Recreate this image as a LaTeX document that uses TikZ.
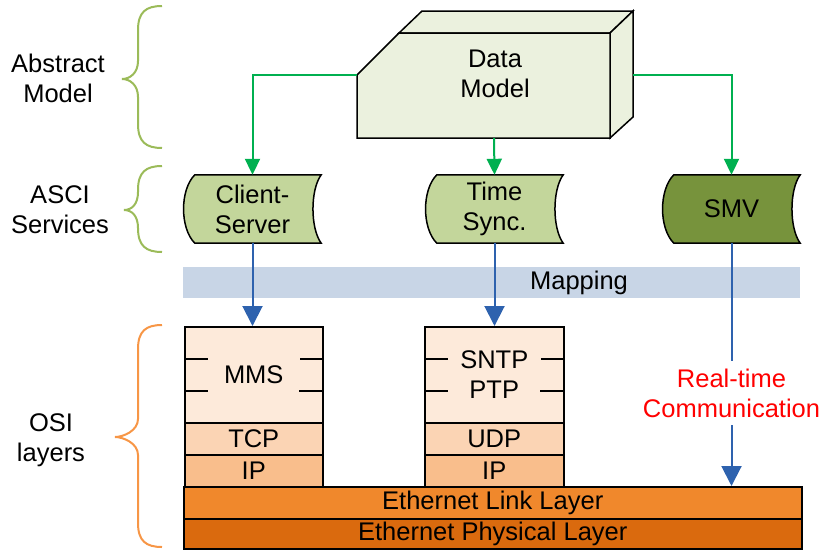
\documentclass[tikz,border=0pt]{standalone}
\usepackage{fontspec}
\setmainfont{Liberation Sans}
\usetikzlibrary{arrows.meta}
\definecolor{dmfill}{HTML}{EBF1DE}
\definecolor{ascilight}{HTML}{C3D69B}
\definecolor{ascidark}{HTML}{77933C}
\definecolor{mapfill}{HTML}{C8D5E6}
\definecolor{appfill}{HTML}{FDEADA}
\definecolor{tcpfill}{HTML}{FBD4B4}
\definecolor{ipfill}{HTML}{F9BE8C}
\definecolor{linkfill}{HTML}{F0882C}
\definecolor{physfill}{HTML}{DA6A0E}
\definecolor{gline}{HTML}{00B050}
\definecolor{bline}{HTML}{2E62AE}
\definecolor{bracegreen}{HTML}{9BBB59}
\definecolor{braceorange}{HTML}{F79646}
\tikzset{
  txt/.style={font=\fontsize{25.5}{30}\selectfont, align=center, inner sep=0pt},
  outline/.style={draw=black, line width=1.5pt},
  layerbox/.style={outline, txt, anchor=north west},
  garrow/.style={draw=gline, line width=2pt, -{Triangle[length=16pt,width=15pt]}},
  barrow/.style={draw=bline, line width=2pt, -{Triangle[length=20pt,width=20pt]}},
  bplain/.style={draw=bline, line width=2pt},
  ascibox/.style={txt, minimum width=137pt, minimum height=68pt},
  tick/.style={draw=black, line width=1.5pt},
}
\newcommand\asciShape[2]{%
  \draw[outline, fill=#2] ([xshift=11pt]#1.north west) -- (#1.north east)
    .. controls ([xshift=-11pt,yshift=-15pt]#1.north east) and ([xshift=-11pt,yshift=15pt]#1.south east) .. (#1.south east)
    -- ([xshift=11pt]#1.south west)
    .. controls ([xshift=-4pt,yshift=15pt]#1.south west) and ([xshift=-4pt,yshift=-15pt]#1.north west) .. cycle;}
% brace: #1 top y, #2 bottom y, #3 tip y, #4 tip x, #5 colour
\newcommand\myBrace[5]{%
  \draw[#5, line width=2pt] (162,#1) .. controls (146,#1) and (138,{#1+6}) .. (138,{#1+24})
    -- (138,{#3-18}) .. controls (138,{#3-6}) and ({#4+8},#3) .. (#4,#3)
    .. controls ({#4+8},#3) and (138,{#3+6}) .. (138,{#3+18})
    -- (138,{#2-24}) .. controls (138,{#2-6}) and (146,#2) .. (162,#2);}
\begin{document}
\begin{tikzpicture}[x=1pt, y=-1pt]
\useasboundingbox (0,0) rectangle (821,549);

% ---------- Data model (3D block) ----------
\draw[outline, fill=dmfill, line join=miter] (399,33) -- (422,11) -- (633,11) -- (610,33) -- cycle;
\draw[outline, fill=dmfill, line join=miter] (610,33) -- (633,11) -- (633,117) -- (610,138) -- cycle;
\draw[outline, fill=dmfill, line join=miter] (357,138) -- (357,75) -- (399,33) -- (610,33) -- (610,138) -- cycle;
\node[txt] (dmtext) at (495,74) {Data\\Model};
\coordinate (dmL) at (357,75);
\coordinate (dmR) at (633,75);
\coordinate (dmB) at (494,138);

% ---------- ASCI services ----------
\node[ascibox] (cs) at (252.5,209) {};
\node[ascibox] (ts) at (494.5,209) {};
\node[ascibox] (smv) at (731.5,209) {};
\asciShape{cs}{ascilight}
\asciShape{ts}{ascilight}
\asciShape{smv}{ascidark}
\node[txt] (cstext) at (cs.center) {Client-\\Server};
\node[txt] (tstext) at (ts.center) {Time\\Sync.};
\node[txt] (smvtext) at (smv.center) {SMV};

% ---------- Mapping ----------
\node[fill=mapfill, minimum width=617pt, minimum height=31pt, inner sep=0pt, anchor=north west] (map) at (183,267) {};
\node[txt] (maptext) at (579,283) {Mapping};

% ---------- OSI stacks ----------
\node[layerbox, fill=appfill, minimum width=138pt, minimum height=96pt] (mms) at (184,326) {MMS};
\node[layerbox, fill=tcpfill, minimum width=138pt, minimum height=32pt] (tcp) at (184,422) {TCP};
\node[layerbox, fill=ipfill, minimum width=138pt, minimum height=32pt] (ip1) at (184,454) {IP};
\node[layerbox, fill=appfill, minimum width=139pt, minimum height=96pt] (sntp) at (424,326) {SNTP\\PTP};
\node[layerbox, fill=tcpfill, minimum width=139pt, minimum height=32pt] (udp) at (424,422) {UDP};
\node[layerbox, fill=ipfill, minimum width=139pt, minimum height=32pt] (ip2) at (424,454) {IP};
\node[layerbox, fill=linkfill, minimum width=618pt, minimum height=32pt] (link) at (183,486) {Ethernet Link Layer};
\node[layerbox, fill=physfill, minimum width=618pt, minimum height=30pt] (phys) at (183,518) {Ethernet Physical Layer};

% ticks
\foreach \n in {mms,sntp}{
  \draw[tick] ([yshift=16pt]\n.west) -- ++(24,0);
  \draw[tick] ([yshift=-16pt]\n.west) -- ++(24,0);
  \draw[tick] ([yshift=16pt]\n.east) -- ++(-24,0);
  \draw[tick] ([yshift=-16pt]\n.east) -- ++(-25,0);
}

% ---------- connectors ----------
\draw[garrow] (dmL) -| (cs.north);
\draw[garrow] (dmB) -- (ts.north);
\draw[garrow] (dmR) -| (smv.north);

\node[txt, text=red, inner ysep=7.5pt] (rt) at (731.5,393) {Real-time\\Communication};
\draw[barrow] (cs.south) -- (cs.south |- mms.north);
\draw[barrow] (ts.south) -- (ts.south |- sntp.north);
\draw[bplain] (smv.south) -- (rt.north);
\draw[barrow] (rt.south) -- (rt.south |- link.north);

% ---------- braces and side labels ----------
\myBrace{6}{148}{79}{122}{bracegreen}
\myBrace{166}{252}{210}{124}{bracegreen}
\myBrace{325}{547}{437}{115}{braceorange}
\node[txt] (lab1) at (58,78) {Abstract\\Model};
\node[txt] (lab2) at (60,210) {ASCI\\Services};
\node[txt] (lab3) at (51,440) {OSI\\layers};
\end{tikzpicture}
\end{document}
